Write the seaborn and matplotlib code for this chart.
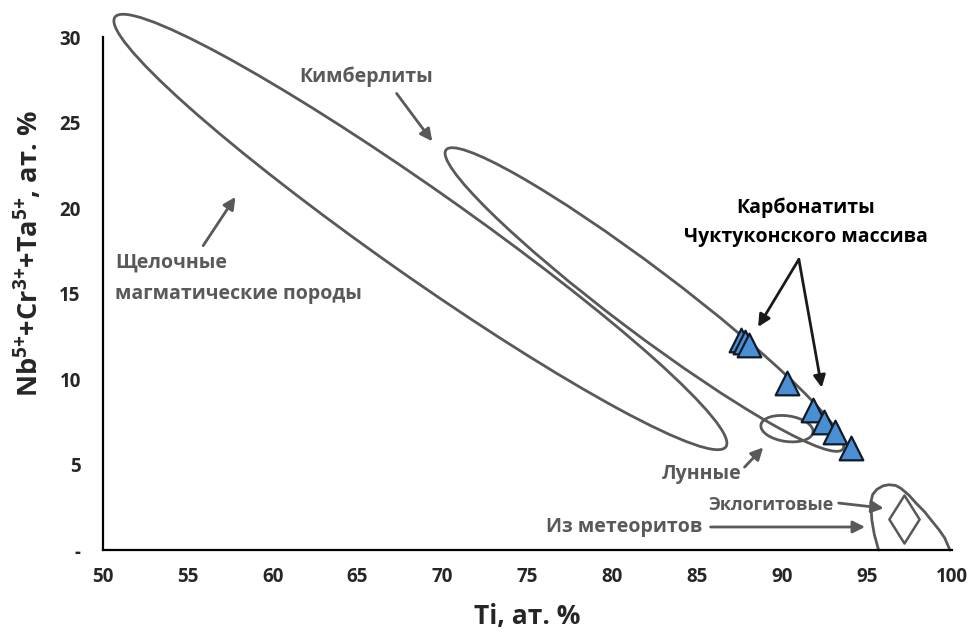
import numpy as np
import pandas as pd
import matplotlib
matplotlib.use("Agg")
import matplotlib.pyplot as plt
from matplotlib.patches import Ellipse
from matplotlib.path import Path
import seaborn as sns

# ---------------- data ----------------
# Carbonatites of the Chuktukon massif (Ti, at.%  vs  Nb+Cr+Ta, at.%)
carb_ti = [87.6, 87.8, 88.05, 90.3, 91.85, 92.5, 93.15, 94.1]
carb_sum = [12.3, 12.15, 12.0, 9.75, 8.2, 7.5, 6.9, 5.95]

# Field ellipses: centre x, centre y, full length, full width, angle (deg)
field_names = ["Щелочные магматические породы", "Кимберлиты", "Лунные"]
field_cx = [68.7, 81.9, 90.3]
field_cy = [18.6, 14.65, 7.1]
field_len = [43.9, 29.2, 3.1]
field_wid = [5.1, 3.8, 1.5]
field_ang = [-34.9, -36.8, -8.0]

# Meteorite field boundary (open arch on the x axis)
meteor_ti = [95.7, 95.45, 95.3, 95.24, 95.35, 95.6, 95.95, 96.3, 96.7, 97.0, 97.5, 97.9, 98.4, 98.8, 99.25, 99.6, 99.9]
meteor_sum = [0.0, 0.9, 1.75, 2.8, 3.25, 3.55, 3.75, 3.82, 3.78, 3.62, 3.2, 2.75, 2.25, 1.75, 1.2, 0.7, 0.0]

# Eclogitic point (diamond)
eclog_ti = [97.18]
eclog_sum = [1.8]

xticks = [50, 55, 60, 65, 70, 75, 80, 85, 90, 95, 100]
yticks = [0, 5, 10, 15, 20, 25, 30]
ytick_labels = ["-", "5", "10", "15", "20", "25", "30"]

GRAY = "#595959"
BLUE = "#4a8fd4"

# ---------------- style ----------------
sns.set_style("white")
plt.rcParams["font.family"] = ["Open Sans", "DejaVu Sans"]
plt.rcParams["font.weight"] = "bold"
plt.rcParams["mathtext.fontset"] = "custom"
plt.rcParams["mathtext.rm"] = "Open Sans:bold"
plt.rcParams["mathtext.bf"] = "Open Sans:bold"
plt.rcParams["mathtext.it"] = "Open Sans:bold"
plt.rcParams["mathtext.default"] = "bf"

fig = plt.figure(figsize=(9.72, 6.33), dpi=100)
ax = fig.add_axes([0.106, 0.131, 0.873, 0.8105])

# field ellipses
for cx, cy, ln, wd, an in zip(field_cx, field_cy, field_len, field_wid, field_ang):
    e = Ellipse((cx, cy), ln, wd, angle=an, fill=False, edgecolor=GRAY,
                lw=2.0, clip_on=False, zorder=2)
    ax.add_patch(e)

# meteorite field
ax.plot(meteor_ti, meteor_sum, color=GRAY, lw=2.0, clip_on=False, zorder=2)

# eclogite diamond marker
diamond = Path([(0, 1), (0.63, 0), (0, -1), (-0.63, 0), (0, 1)],
               [Path.MOVETO, Path.LINETO, Path.LINETO, Path.LINETO, Path.CLOSEPOLY])
ax.scatter(eclog_ti, eclog_sum, marker=diamond, s=48 ** 2 * 0.52, facecolor="white",
           edgecolor=GRAY, linewidth=1.8, zorder=3, clip_on=False)

# carbonatites
df = pd.DataFrame({"Ti": carb_ti, "Sum": carb_sum})
sns.scatterplot(data=df, x="Ti", y="Sum", marker="^", s=290, color=BLUE,
                edgecolor="#111a26", linewidth=1.6, ax=ax, zorder=5, clip_on=False)

# axes
ax.set_xlim(50, 100)
ax.set_ylim(0, 30)
ax.set_xticks(xticks)
ax.set_yticks(yticks)
ax.set_yticklabels(ytick_labels)
for s in ["top", "right"]:
    ax.spines[s].set_visible(False)
for s in ["left", "bottom"]:
    ax.spines[s].set_color("black")
    ax.spines[s].set_linewidth(1.6)
ax.tick_params(axis="both", direction="out", length=4, width=1.6, color="black",
               labelsize=13.5)
ax.tick_params(axis="x", pad=8)
ax.tick_params(axis="y", pad=12)
for lab in ax.get_xticklabels() + ax.get_yticklabels():
    lab.set_fontweight("bold")

ax.set_xlabel("Ti, ат. %", fontsize=19, fontweight="bold", labelpad=12)
ax.set_ylabel("Nb$^{5{+}}$+Cr$^{3{+}}$+Ta$^{5{+}}$, ат. %", fontsize=19.5,
              fontweight="bold")
ax.yaxis.set_label_coords(-0.069, 0.577)

# annotations (gray)
arrow_g = dict(arrowstyle="-|>", color=GRAY, lw=2.0, mutation_scale=18,
               shrinkA=0, shrinkB=0)
ax.annotate("", xy=(69.4, 23.9), xytext=(67.3, 26.7), arrowprops=arrow_g)
ax.text(65.5, 27.7, "Кимберлиты", color=GRAY, fontsize=14, fontweight="bold",
        ha="center", va="center")

ax.annotate("", xy=(57.8, 20.65), xytext=(55.9, 17.8), arrowprops=arrow_g)
ax.text(50.7, 16.8, "Щелочные", color=GRAY, fontsize=14, fontweight="bold",
        ha="left", va="center")
ax.text(50.7, 15.0, "магматические породы", color=GRAY, fontsize=14,
        fontweight="bold", ha="left", va="center")

ax.annotate("", xy=(88.9, 6.0), xytext=(87.8, 4.85), arrowprops=arrow_g)
ax.text(87.6, 4.45, "Лунные", color=GRAY, fontsize=14, fontweight="bold",
        ha="right", va="center")

ax.annotate("", xy=(96.0, 2.45), xytext=(93.35, 2.75), arrowprops=arrow_g)
ax.text(93.05, 2.65, "Эклогитовые", color=GRAY, fontsize=13, fontweight="bold",
        ha="right", va="center")

ax.annotate("", xy=(94.9, 1.35), xytext=(85.8, 1.35), arrowprops=arrow_g)
ax.text(85.3, 1.35, "Из метеоритов", color=GRAY, fontsize=14, fontweight="bold",
        ha="right", va="center")

# carbonatite label (black)
arrow_k = dict(arrowstyle="-|>", color="#1a1a1a", lw=2.0, mutation_scale=18,
               shrinkA=0, shrinkB=0)
ax.annotate("", xy=(88.6, 13.05), xytext=(91.0, 17.0), arrowprops=arrow_k)
ax.annotate("", xy=(92.35, 9.5), xytext=(91.0, 17.0), arrowprops=arrow_k)
ax.text(91.4, 20.0, "Карбонатиты", color="black", fontsize=14, fontweight="bold",
        ha="center", va="center")
ax.text(91.4, 18.3, "Чуктуконского массива", color="black", fontsize=14,
        fontweight="bold", ha="center", va="center")

fig.savefig("out.png", dpi=100)
